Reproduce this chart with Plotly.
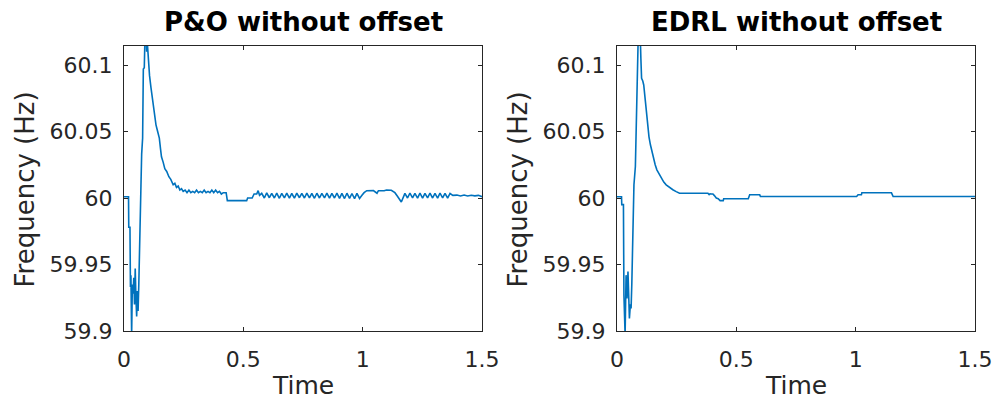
import plotly.graph_objects as go

# ---- Frequency response, P&O controller without offset ----
t_po = [
    0.000, 0.019, 0.020, 0.025, 0.027, 0.029, 0.032, 0.035, 0.038, 0.041,
    0.044, 0.047, 0.050, 0.053, 0.056, 0.059, 0.062, 0.065, 0.068, 0.071,
    0.074, 0.078, 0.081, 0.085, 0.088, 0.092, 0.095, 0.098, 0.101, 0.104,
    0.107, 0.113, 0.120, 0.127, 0.134, 0.141, 0.148, 0.153, 0.157, 0.164,
    0.171, 0.179, 0.188, 0.196, 0.206, 0.213, 0.220, 0.227, 0.234, 0.241,
    0.248, 0.256, 0.264, 0.272, 0.280, 0.288, 0.296, 0.304, 0.312, 0.320,
    0.328, 0.336, 0.344, 0.352, 0.360, 0.368, 0.376, 0.384, 0.392, 0.400,
    0.408, 0.416, 0.428, 0.433, 0.514, 0.518, 0.537, 0.545, 0.556, 0.562,
    0.568, 0.577, 0.588, 0.598, 0.609, 0.619, 0.630, 0.640, 0.651, 0.661,
    0.672, 0.682, 0.693, 0.703, 0.714, 0.724, 0.735, 0.745, 0.756, 0.766,
    0.777, 0.787, 0.798, 0.808, 0.819, 0.829, 0.840, 0.850, 0.861, 0.871,
    0.882, 0.892, 0.903, 0.913, 0.924, 0.934, 0.945, 0.955, 0.966, 0.976,
    0.987, 0.997, 1.006, 1.017, 1.045, 1.060, 1.066, 1.090, 1.100, 1.120,
    1.135, 1.145, 1.162, 1.177, 1.188, 1.198, 1.209, 1.219, 1.230, 1.240,
    1.251, 1.261, 1.272, 1.282, 1.293, 1.303, 1.314, 1.324, 1.335, 1.345,
    1.356, 1.366, 1.378, 1.395, 1.410, 1.425, 1.440, 1.455, 1.470, 1.485,
    1.500,
]
f_po = [
    60.0010, 60.0010, 59.9780, 59.9780, 59.9330, 59.9420, 59.8970, 59.9350, 59.9280, 59.9400,
    59.9200, 59.9470, 59.9250, 59.9110, 59.9300, 59.9150, 59.9350, 59.9680, 59.9850, 60.0090,
    60.0330, 60.0450, 60.0970, 60.0980, 60.1220, 60.1250, 60.1100, 60.1160, 60.1080, 60.0960,
    60.0920, 60.0830, 60.0730, 60.0640, 60.0550, 60.0500, 60.0450, 60.0370, 60.0310, 60.0270,
    60.0220, 60.0200, 60.0160, 60.0140, 60.0100, 60.0110, 60.0080, 60.0090, 60.0060, 60.0070,
    60.0050, 60.0060, 60.0040, 60.0060, 60.0040, 60.0050, 60.0040, 60.0060, 60.0040, 60.0050,
    60.0040, 60.0060, 60.0040, 60.0050, 60.0040, 60.0060, 60.0040, 60.0060, 60.0040, 60.0050,
    60.0030, 60.0040, 60.0040, 59.9980, 59.9980, 60.0000, 60.0000, 60.0030, 60.0030, 60.0055,
    60.0020, 60.0035, 60.0000, 60.0038, 60.0002, 60.0035, 60.0000, 60.0036, 59.9998, 60.0035,
    60.0001, 60.0037, 60.0000, 60.0034, 59.9999, 60.0036, 60.0002, 60.0035, 60.0000, 60.0037,
    60.0001, 60.0034, 59.9998, 60.0036, 60.0000, 60.0035, 60.0001, 60.0037, 59.9999, 60.0035,
    60.0000, 60.0036, 59.9997, 60.0035, 59.9996, 60.0036, 59.9998, 60.0034, 59.9995, 60.0035,
    59.9997, 60.0020, 60.0040, 60.0055, 60.0056, 60.0036, 60.0055, 60.0055, 60.0060, 60.0058,
    60.0040, 60.0015, 59.9970, 60.0035, 60.0000, 60.0036, 60.0001, 60.0035, 59.9999, 60.0036,
    60.0000, 60.0035, 60.0001, 60.0036, 60.0000, 60.0035, 59.9999, 60.0036, 60.0001, 60.0035,
    60.0000, 60.0034, 60.0020, 60.0022, 60.0015, 60.0022, 60.0015, 60.0021, 60.0016, 60.0020,
    60.0010,
]

# ---- Frequency response, EDRL controller without offset ----
t_edrl = [
    0.000, 0.019, 0.020, 0.027, 0.029, 0.034, 0.038, 0.042, 0.046, 0.049,
    0.052, 0.056, 0.059, 0.062, 0.066, 0.071, 0.077, 0.081, 0.084, 0.089,
    0.093, 0.098, 0.100, 0.103, 0.108, 0.112, 0.119, 0.124, 0.129, 0.134,
    0.140, 0.147, 0.153, 0.160, 0.167, 0.176, 0.185, 0.196, 0.206, 0.220,
    0.234, 0.248, 0.262, 0.300, 0.340, 0.381, 0.386, 0.390, 0.396, 0.402,
    0.408, 0.416, 0.424, 0.432, 0.445, 0.447, 0.550, 0.556, 0.598, 0.601,
    1.004, 1.010, 1.024, 1.026, 1.150, 1.157, 1.500,
]
f_edrl = [
    60.0010, 60.0010, 59.9950, 59.9950, 59.9270, 59.8970, 59.9420, 59.9245, 59.9447, 59.9300,
    59.9095, 59.9200, 59.9170, 59.9350, 59.9760, 60.0100, 60.0237, 60.0600, 60.0827, 60.1220,
    60.1250, 60.1180, 60.1050, 60.0900, 60.0880, 60.0850, 60.0727, 60.0630, 60.0526, 60.0460,
    60.0400, 60.0340, 60.0288, 60.0250, 60.0212, 60.0180, 60.0149, 60.0120, 60.0099, 60.0078,
    60.0062, 60.0048, 60.0036, 60.0036, 60.0036, 60.0036, 60.0025, 60.0032, 60.0030, 60.0030,
    60.0018, 60.0000, 59.9995, 59.9980, 59.9980, 59.9994, 59.9994, 60.0024, 60.0024, 60.0011,
    60.0011, 60.0024, 60.0024, 60.0039, 60.0039, 60.0011, 60.0011,
]

titles = ["P&O without offset", "EDRL without offset"]
x_ticks = [0, 0.5, 1, 1.5]
x_tick_text = ["0", "0.5", "1", "1.5"]
y_ticks = [59.9, 59.95, 60, 60.05, 60.1]
y_tick_text = ["59.9", "59.95", "60", "60.05", "60.1"]

W, H = 997, 401
FONT = "DejaVu Sans"
AX_COLOR = "#262626"
LINE_COLOR = "#0072BD"

# Plot areas in pixels: (left, right), top/bottom shared
boxes = [(124, 482), (617, 975)]
top_px, bot_px = 46, 331

fig = go.Figure()

series = [(t_po, f_po), (t_edrl, f_edrl)]
for i, (t, f) in enumerate(series):
    suffix = "" if i == 0 else str(i + 1)
    fig.add_trace(go.Scatter(
        x=t, y=f, mode="lines",
        line=dict(color=LINE_COLOR, width=1.6),
        xaxis="x" + suffix, yaxis="y" + suffix,
        showlegend=False, hoverinfo="skip",
    ))

axis_common = dict(
    showline=True, mirror="ticks", linecolor=AX_COLOR, linewidth=1.2,
    ticks="inside", ticklen=4, tickwidth=1, tickcolor=AX_COLOR,
    showgrid=False, zeroline=False, automargin=False,
    tickfont=dict(family=FONT, size=22, color=AX_COLOR),
)

layout = dict(
    width=W, height=H,
    margin=dict(l=0, r=0, t=0, b=0, autoexpand=False),
    paper_bgcolor="white", plot_bgcolor="white",
    annotations=[],
)

y_dom = [(H - bot_px) / H, (H - top_px) / H]
for i, (x0, x1) in enumerate(boxes):
    suffix = "" if i == 0 else str(i + 1)
    layout["xaxis" + suffix] = dict(
        axis_common,
        domain=[x0 / W, x1 / W], range=[0, 1.5],
        tickvals=x_ticks, ticktext=x_tick_text,
        anchor="y" + suffix, ticklabelstandoff=8,
    )
    layout["yaxis" + suffix] = dict(
        axis_common,
        domain=y_dom, range=[59.9, 60.1143],
        tickvals=y_ticks, ticktext=y_tick_text,
        anchor="x" + suffix, ticklabelstandoff=6,
    )
    cx = (x0 + x1) / 2
    # title
    layout["annotations"].append(dict(
        text="<b>%s</b>" % titles[i], x=cx / W, y=1 - 22 / H,
        xref="paper", yref="paper", showarrow=False,
        xanchor="center", yanchor="middle",
        font=dict(family=FONT, size=26, color="#000000"),
    ))
    # x label
    layout["annotations"].append(dict(
        text="Time", x=cx / W, y=1 - 385 / H,
        xref="paper", yref="paper", showarrow=False,
        xanchor="center", yanchor="middle",
        font=dict(family=FONT, size=25, color=AX_COLOR),
    ))
    # y label
    layout["annotations"].append(dict(
        text="Frequency (Hz)", x=(x0 - 100) / W, y=1 - 189.5 / H,
        xref="paper", yref="paper", showarrow=False, textangle=-90,
        xanchor="center", yanchor="middle",
        font=dict(family=FONT, size=26, color=AX_COLOR),
    ))

fig.update_layout(**layout)
fig.write_html("out.html")
